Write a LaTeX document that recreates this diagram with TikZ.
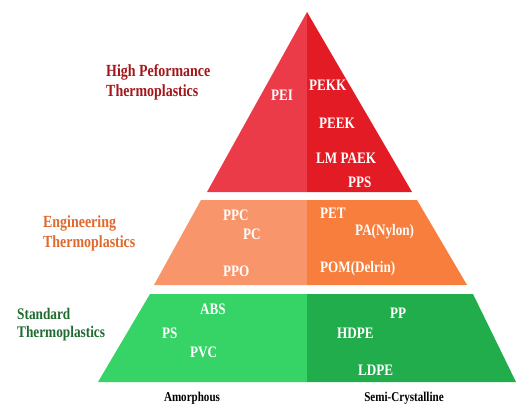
\documentclass[tikz,border=0pt]{standalone}
\usepackage{fontspec}
\setmainfont{Liberation Serif}
\newfontfamily\narrowserif[FakeStretch=0.82]{Liberation Serif}
\usepackage{tikz}
\definecolor{HighLeft}{HTML}{EC3B48}
\definecolor{HighRight}{HTML}{E31B24}
\definecolor{EngLeft}{HTML}{F8956A}
\definecolor{EngRight}{HTML}{F77E3C}
\definecolor{StdLeft}{HTML}{36D366}
\definecolor{StdRight}{HTML}{22AD4C}
\definecolor{HighInk}{HTML}{A3161A}
\definecolor{EngInk}{HTML}{E0692E}
\definecolor{StdInk}{HTML}{1F6B30}
\tikzset{
  polymer/.style={anchor=west,inner sep=0pt,text=white,
    font=\narrowserif\bfseries\fontsize{16}{18}\selectfont},
  tier/.style={anchor=west,align=left,inner sep=0pt,
    font=\narrowserif\bfseries\fontsize{17}{20}\selectfont},
  axis label/.style={inner sep=0pt,text=black,
    font=\narrowserif\bfseries\fontsize{13.5}{15}\selectfont}
}

\begin{document}
\begin{tikzpicture}[x=1pt,y=-1pt]
    \useasboundingbox[fill=white] (0,0) rectangle (516,407);
    % top: high performance
    \fill[HighLeft] (307,12) -- (207,192) -- (307,192) -- cycle;
    \fill[HighRight] (307,12) -- (412,192) -- (307,192) -- cycle;
    % middle: engineering
    \fill[EngLeft] (201,200) -- (154,285) -- (307,285) -- (307,200) -- cycle;
    \fill[EngRight] (307,200) -- (417,200) -- (467,285) -- (307,285) -- cycle;
    % bottom: standard
    \fill[StdLeft] (150,294) -- (98,382) -- (307,382) -- (307,294) -- cycle;
    \fill[StdRight] (307,294) -- (473,294) -- (516,382) -- (307,382) -- cycle;

    \node[tier,text=HighInk] (high) at (106,82) {High Peformance\\Thermoplastics};
    \node[tier,text=EngInk] (eng) at (43,233) {Engineering\\Thermoplastics};
    \node[tier,text=StdInk,font=\narrowserif\bfseries\fontsize{16.2}{18}\selectfont] (std) at (17,325) {Standard\\Thermoplastics};

    \node[polymer] (pei) at (271,95) {PEI};
    \node[polymer] (pekk) at (309,85) {PEKK};
    \node[polymer] (peek) at (319,123) {PEEK};
    \node[polymer] (lmpaek) at (316,158) {LM PAEK};
    \node[polymer] (pps) at (348,182) {PPS};

    \node[polymer] (ppc) at (223,215) {PPC};
    \node[polymer] (pc) at (243,234) {PC};
    \node[polymer] (ppo) at (223,271) {PPO};
    \node[polymer] (pet) at (320,213) {PET};
    \node[polymer] (pa) at (355,232) {PA(Nylon)};
    \node[polymer] (pom) at (320,269) {POM(Delrin)};

    \node[polymer] (abs) at (200,309) {ABS};
    \node[polymer] (ps) at (162,333) {PS};
    \node[polymer] (pvc) at (190,352) {PVC};
    \node[polymer] (pp) at (390,313) {PP};
    \node[polymer] (hdpe) at (337,333) {HDPE};
    \node[polymer] (ldpe) at (358,370) {LDPE};

    \node[axis label] (amorph) at (192,398) {Amorphous};
    \node[axis label] (semi) at (404,398) {Semi-Crystalline};
  \end{tikzpicture}
\end{document}
